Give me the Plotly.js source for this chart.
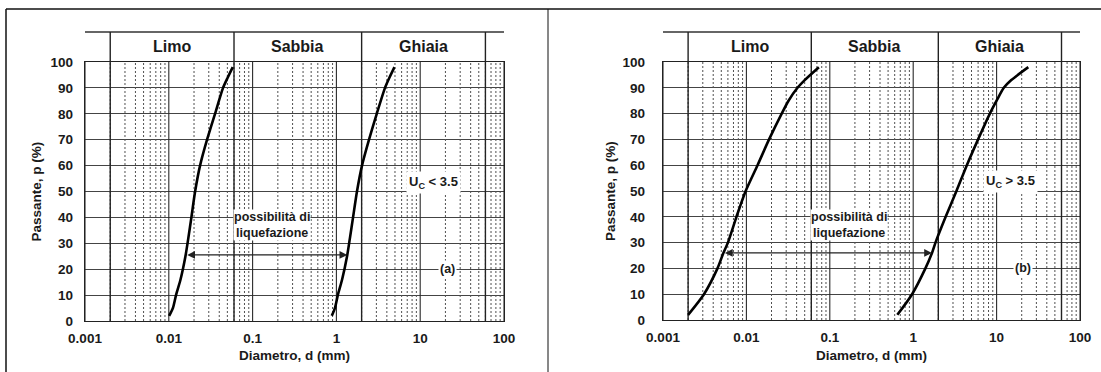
<!DOCTYPE html>
<html><head><meta charset="utf-8">
<script src="https://cdn.plot.ly/plotly-3.0.1.min.js"></script>
<style>html,body{margin:0;padding:0;background:#fff}#chart{width:1101px;height:372px}</style>
</head><body><div id="chart"></div>
<script>
// ---------- data ----------
// Panel (a): Uc < 3.5
const pctA1 = [2, 5, 10, 16, 25, 32, 40, 50, 60, 70, 80, 90, 94, 98];
const dA1   = [0.0101, 0.0112, 0.0122, 0.0138, 0.0158, 0.0171, 0.0186, 0.0206, 0.0236, 0.0286, 0.0356, 0.0444, 0.0505, 0.058];
const pctA2 = [2, 5, 10, 16, 25, 32, 40, 50, 60, 70, 80, 90, 94, 98];
const dA2   = [0.88, 0.96, 1.04, 1.17, 1.34, 1.45, 1.58, 1.76, 2.02, 2.45, 3.03, 3.8, 4.3, 4.93];
// Panel (b): Uc > 3.5
const pctB1 = [2, 10, 20, 26, 30, 40, 50, 60, 70, 80, 85, 90, 93, 98];
const dB1   = [0.002, 0.0031, 0.0045, 0.0053, 0.006, 0.0076, 0.0098, 0.0136, 0.0187, 0.0265, 0.032, 0.041, 0.05, 0.074];
const pctB2 = [2, 10, 20, 26, 30, 40, 50, 60, 70, 80, 85, 90, 93, 98];
const dB2   = [0.645, 0.97, 1.4, 1.68, 1.85, 2.45, 3.3, 4.4, 6.0, 8.3, 10, 12.2, 15, 24];

// liquefaction arrows: [panel a, panel b]
const arrowLevel = [25.5, 26];
const arrowFrom  = [0.0159, 0.0053];
const arrowTo    = [1.35, 1.68];

// soil classes (header)
const zoneNames  = ['Limo', 'Sabbia', 'Ghiaia'];
const zoneBounds = [0.002, 0.06, 2, 60];

// axis ticks
const xTickVals  = [0.001, 0.01, 0.1, 1, 10, 100];
const xTickText  = ['0.001', '0.01', '0.1', '1', '10', '100'];
const yTickVals  = [0, 10, 20, 30, 40, 50, 60, 70, 80, 90, 100];

const ucLabels   = ['U<sub>C</sub> &lt; 3.5', 'U<sub>C</sub> &gt; 3.5'];
const panelTags  = ['(a)', '(b)'];
const liqText    = 'possibilità di<br>liquefazione';
const xTitle     = 'Diametro, d (mm)';
const yTitle     = 'Passante, p (%)';

// ---------- build ----------
const FONT = 'Liberation Sans, Arial, sans-serif';
const INK = '#1a1a1a';

function gridTraces(xa, ya) {
  const maj = {x: [], y: []}, mnr = {x: [], y: []}, bnd = {x: [], y: []};
  for (let e = -3; e <= 2; e++) {
    for (let k = 1; k <= 9; k++) {
      const v = k * Math.pow(10, e);
      if (v > 100.0001) break;
      const t = (k === 1) ? maj : mnr;
      t.x.push(v, v, null); t.y.push(0, 100, null);
    }
  }
  zoneBounds.forEach(v => { bnd.x.push(v, v, null); bnd.y.push(0, 100, null); });
  const base = {type: 'scatter', mode: 'lines', xaxis: xa, yaxis: ya, hoverinfo: 'skip', showlegend: false};
  return [
    Object.assign({}, base, mnr, {line: {color: '#505050', width: 1, dash: '2px,2px'}}),
    Object.assign({}, base, maj, {line: {color: '#2a2a2a', width: 1.1}}),
    Object.assign({}, base, bnd, {line: {color: '#222', width: 1.4}})
  ];
}
function curve(x, y, xa, ya) {
  return {type: 'scatter', mode: 'lines', x: x, y: y, xaxis: xa, yaxis: ya,
          line: {color: '#000', width: 2.6, shape: 'spline', smoothing: 0.7},
          hoverinfo: 'skip', showlegend: false};
}

const data = [].concat(
  gridTraces('x', 'y'), gridTraces('x2', 'y2'),
  [curve(dA1, pctA1, 'x', 'y'), curve(dA2, pctA2, 'x', 'y'),
   curve(dB1, pctB1, 'x2', 'y2'), curve(dB2, pctB2, 'x2', 'y2')]
);

const W = 1101, H = 372;
const px = v => v / W, py = v => (H - v) / H;

function xAxis(l, r) {
  return {type: 'log', range: [-3, 2], domain: [px(l), px(r)],
    tickvals: xTickVals, ticktext: xTickText, ticks: '', showgrid: false, zeroline: false,
    showline: true, mirror: true, linecolor: '#222', linewidth: 1.2,
    tickfont: {family: FONT, size: 13.5, color: INK, weight: 'bold'}, ticklabelstandoff: 5, fixedrange: true};
}
function yAxis(t, b, standoff) {
  return {range: [0, 100], domain: [py(b), py(t)], tickvals: yTickVals, ticks: '',
    showgrid: true, gridcolor: '#444', gridwidth: 1, zeroline: false,
    showline: true, mirror: true, linecolor: '#222', linewidth: 1.2,
    tickfont: {family: FONT, size: 13.5, color: INK, weight: 'bold'}, ticklabelstandoff: standoff, fixedrange: true};
}

const panels = [
  {xa: 'x', ya: 'y', left: 85, right: 504, top: 62, bottom: 321, ytitleX: 36},
  {xa: 'x2', ya: 'y2', left: 663, right: 1080, top: 62, bottom: 320, ytitleX: 610}
];

const shapes = [
  // outer frame of the figure
  {type: 'line', xref: 'paper', yref: 'paper', x0: px(6), x1: 1, y0: py(9), y1: py(9), line: {color: '#111', width: 1.5}},
  {type: 'line', xref: 'paper', yref: 'paper', x0: px(6), x1: px(6), y0: 0, y1: py(9), line: {color: '#111', width: 1.5}},
  {type: 'line', xref: 'paper', yref: 'paper', x0: px(548), x1: px(548), y0: 0, y1: py(9), line: {color: '#111', width: 1}}
];
const annotations = [];

panels.forEach((p, i) => {
  const hTop = 1 + 30 / (p.bottom - p.top);
  // header box
  shapes.push({type: 'line', xref: p.xa + ' domain', yref: p.ya + ' domain', x0: 0, x1: 1, y0: hTop, y1: hTop,
               line: {color: '#333', width: 1.4}});
  zoneBounds.forEach(b => shapes.push({type: 'line', xref: p.xa, yref: p.ya + ' domain', x0: b, x1: b, y0: 1, y1: hTop,
               line: {color: '#222', width: 1.4}}));
  zoneNames.forEach((n, k) => annotations.push({
    xref: p.xa, yref: p.ya + ' domain', x: (Math.log10(zoneBounds[k]) + Math.log10(zoneBounds[k + 1])) / 2,
    y: (1 + hTop) / 2, xanchor: 'center', yanchor: 'middle', text: n, showarrow: false,
    font: {family: FONT, size: 16, color: INK, weight: 'bold'}}));
  // arrow
  annotations.push({xref: p.xa, yref: p.ya, axref: p.xa, ayref: p.ya,
    x: Math.log10(arrowTo[i]), y: arrowLevel[i], ax: Math.log10(arrowFrom[i]), ay: arrowLevel[i],
    text: '', showarrow: true, arrowside: 'end+start', arrowhead: 2, arrowsize: 1.3, arrowwidth: 1.2, arrowcolor: '#222'});
  // texts
  annotations.push({xref: p.xa, yref: p.ya, x: Math.log10(0.17), y: 37, xanchor: 'center', yanchor: 'middle',
    text: liqText, showarrow: false, bgcolor: '#fff', borderpad: 0,
    font: {family: FONT, size: 12.5, color: INK, weight: 'bold'}});
  annotations.push({xref: p.xa, yref: p.ya, x: Math.log10(14.5), y: 53.5, xanchor: 'center', yanchor: 'middle',
    text: ucLabels[i], showarrow: false, bgcolor: '#fff', borderpad: 2,
    font: {family: FONT, size: 13, color: INK, weight: 'bold'}});
  annotations.push({xref: p.xa, yref: p.ya, x: Math.log10(21), y: 20, xanchor: 'center', yanchor: 'middle',
    text: panelTags[i], showarrow: false, bgcolor: '#fff', borderpad: 1,
    font: {family: FONT, size: 12.5, color: INK, weight: 'bold'}});
  // axis titles
  annotations.push({xref: p.xa + ' domain', yref: 'paper', x: 0.5, y: py(355), xanchor: 'center', yanchor: 'middle',
    text: xTitle, showarrow: false, font: {family: FONT, size: 13.5, color: INK, weight: 'bold'}});
  annotations.push({xref: 'paper', yref: 'paper', x: px(p.ytitleX), y: py((p.top + p.bottom) / 2),
    xanchor: 'center', yanchor: 'middle', text: yTitle,
    textangle: -90, showarrow: false, font: {family: FONT, size: 13.5, color: INK, weight: 'bold'}});
});

const layout = {
  width: W, height: H, margin: {l: 0, r: 0, t: 0, b: 0},
  paper_bgcolor: '#fff', plot_bgcolor: '#fff', showlegend: false,
  xaxis: Object.assign(xAxis(85, 504), {anchor: 'y'}), yaxis: Object.assign(yAxis(62, 321, 8), {anchor: 'x'}),
  xaxis2: Object.assign(xAxis(663, 1080), {anchor: 'y2'}), yaxis2: Object.assign(yAxis(62, 320, 14), {anchor: 'x2'}),
  shapes: shapes, annotations: annotations
};

Plotly.newPlot('chart', data, layout, {staticPlot: true, displayModeBar: false});
</script></body></html>
